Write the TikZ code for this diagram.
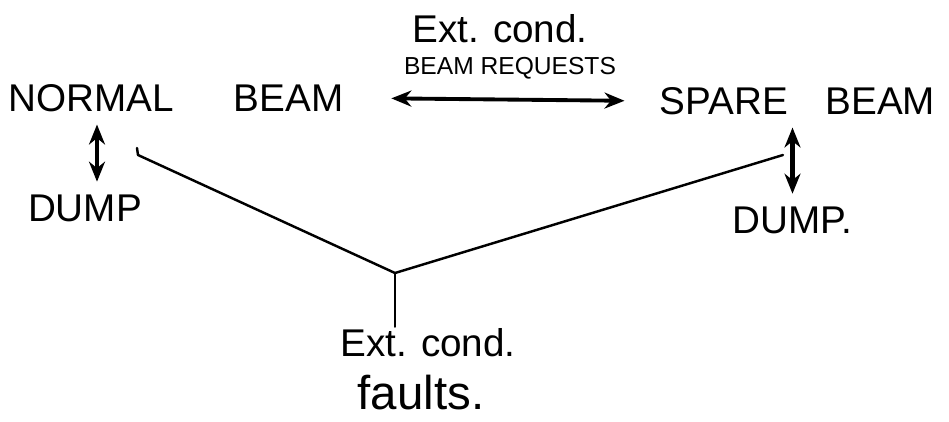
\documentclass[tikz,border=0pt]{standalone}
\usepackage{fontspec}
\setmainfont{Liberation Sans}
\usepackage{tikz}
\usetikzlibrary{arrows.meta,calc,positioning}

\begin{document}
\begin{tikzpicture}[
    >={Stealth[length=4mm,width=3.2mm]},
    state/.style={font=\fontsize{22}{26}\selectfont,inner sep=0.25cm},
    cond/.style={font=\fontsize{22}{26}\selectfont,inner sep=1pt},
    request/.style={font=\fontsize{14}{17}\selectfont,inner sep=1pt},
    dumparrow/.style={<->,line width=2.4pt},
    reqarrow/.style={<->,line width=2.2pt},
    faultline/.style={line width=1.4pt,line cap=round,line join=round},
  ]
    \useasboundingbox (0,0) rectangle (18.98,-8.42);

    % beam states
    \node[state] (normal) at (3.52,-1.96) {NORMAL\hspace{1.2cm}BEAM};
    \node[state] (spare) at (15.95,-2.02) {SPARE\hspace{0.75cm}BEAM};
    \node[state] (dumpL) at (1.7,-4.16) {DUMP};
    \node[state] (dumpR) at (15.85,-4.4) {DUMP.};

    % requests between the beams
    \node[cond] (reqtop) at (10.0,-0.58) {Ext. cond.};
    \node[request] (reqsub) at (10.2,-1.36) {BEAM REQUESTS};
    \draw[reqarrow,shorten <=0.7cm,shorten >=0.45cm] (normal.east) -- (spare.west);

    \draw[dumparrow] ([xshift=2.4mm]dumpL.north |- normal.south) -- ([xshift=2.4mm]dumpL.north);
    \draw[dumparrow] (dumpR.north |- spare.south) -- (dumpR.north);

    % faults
    \node[cond] (faults1) at (8.56,-6.86) {Ext. cond.};
    \node[state,inner sep=2pt,font=\fontsize{27}{31}\selectfont] (faults2) at (8.42,-7.86) {faults.};
    \coordinate (join) at (7.9,-5.46);
    \coordinate (tapL) at (2.76,-3.1);
    \coordinate (tapR) at (15.66,-3.1);
    \draw[faultline] ($(tapL)+(-0.02,0.14)$) -- (tapL) -- (join) -- (tapR);
    \draw[faultline] (join) -- (join |- faults1.north);
  \end{tikzpicture}
\end{document}
